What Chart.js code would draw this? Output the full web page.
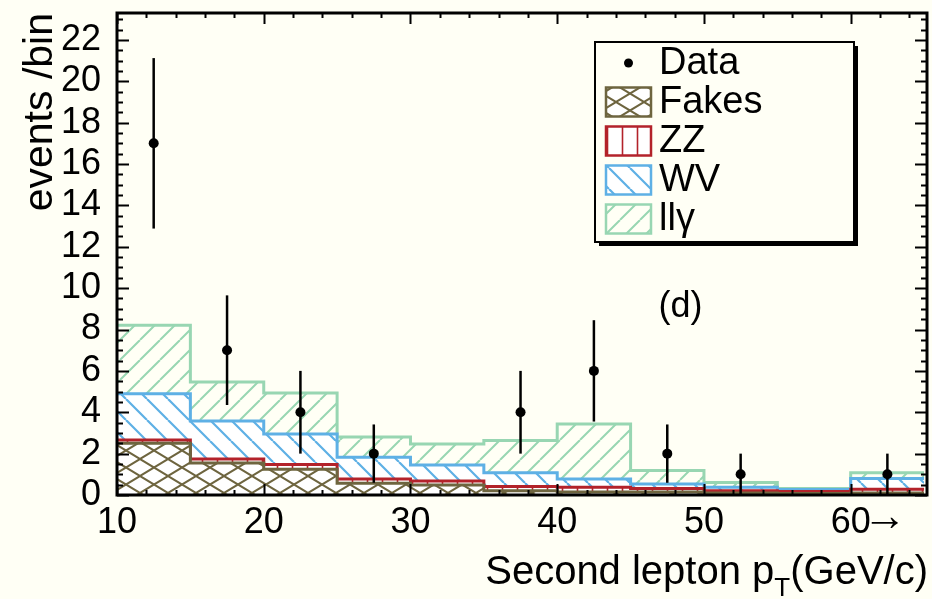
<!DOCTYPE html>
<html>
<head>
<meta charset="utf-8">
<script src="https://cdn.jsdelivr.net/npm/chart.js@4/dist/chart.umd.min.js"></script>
<style>
  html, body { margin: 0; padding: 0; background: #fffff5; }
  #wrap { width: 932px; height: 599px; }
</style>
</head>
<body>
<div id="wrap"><canvas id="c" width="932" height="599"></canvas></div>
<script>
// Bin edges of the second-lepton pT histogram (GeV/c); last bin holds overflow
const binEdges = [10, 15, 20, 25, 30, 35, 40, 45, 50, 55, 60, 65];

// Expected yields per bin for each background component (stacked bottom to top)
const fakes = [2.50, 1.55, 1.25, 0.57, 0.48, 0.20, 0.15, 0.15, 0.10, 0.07, 0.10];
const zz    = [0.16, 0.19, 0.22, 0.20, 0.20, 0.21, 0.23, 0.16, 0.11, 0.10, 0.18];
const wv    = [2.24, 1.84, 1.48, 1.05, 0.77, 0.67, 0.39, 0.22, 0.16, 0.09, 0.52];
const llg   = [3.30, 1.88, 1.98, 0.98, 1.02, 1.56, 2.66, 0.66, 0.24, 0.06, 0.27];

// Observed events (bin centres), with their uncertainties
const dataX   = [12.5, 17.5, 22.5, 27.5, 37.5, 42.5, 47.5, 52.5, 62.5];
const dataY   = [17, 7, 4, 2, 4, 6, 2, 1, 1];
const dataErr = [4.12, 2.65, 2.0, 1.41, 2.0, 2.45, 1.41, 1.0, 1.0];

const xTicks = [10, 20, 30, 40, 50, 60];
const yTicks = [0, 2, 4, 6, 8, 10, 12, 14, 16, 18, 20, 22];
const legendLabels = ['Data', 'Fakes', 'ZZ', 'WV', 'll\u03B3'];
const xTitle = ['Second lepton p', 'T', '(GeV/c)'];
const yTitle = 'events /bin';
const panelTag = '(d)';

const FONT = '"Liberation Sans", Arial, Helvetica, sans-serif';
const BG = '#fffff5';

// ---- hatch patterns ----
function makePattern(w, h, color, lw, bg, drawLines) {
  const c = document.createElement('canvas');
  c.width = w; c.height = h;
  const g = c.getContext('2d');
  if (bg) { g.fillStyle = bg; g.fillRect(0, 0, w, h); }
  g.strokeStyle = color; g.lineWidth = lw; g.lineCap = 'butt';
  g.beginPath(); drawLines(g, w, h); g.stroke();
  return g.createPattern(c, 'repeat');
}
const slash = (g, w, h) => { for (const o of [-w, 0, w]) { g.moveTo(o, h); g.lineTo(o + w, 0); } };
const backslash = (g, w, h) => { for (const o of [-w, 0, w]) { g.moveTo(o, 0); g.lineTo(o + w, h); } };
const vertical = (g, w, h) => { g.moveTo(w / 2, 0); g.lineTo(w / 2, h); };
const cross = (g, w, h) => { slash(g, w, h); backslash(g, w, h); };

const COL = {
  fakes: '#6e653f',
  zz: '#b3222a',
  wv: '#5eb0e5',
  llg: '#98d6b2'
};
const PAT = {
  fakes: makePattern(28, 17, COL.fakes, 2, '#ffffff', cross),
  zz: makePattern(15, 15, COL.zz, 1.6, '#ffffff', vertical),
  wv: makePattern(21, 21, COL.wv, 2.2, '#ffffff', backslash),
  llg: makePattern(20, 20, COL.llg, 2, null, slash)
};

// ---- stacked step outlines built from the component arrays ----
function stackTops(...parts) {
  const tops = [];
  let run = parts[0].map(() => 0);
  for (const p of parts) { run = run.map((v, i) => v + p[i]); tops.push(run.slice()); }
  return tops;
}
function stepPoints(tops) {
  const pts = tops.map((v, i) => ({ x: binEdges[i], y: v }));
  pts.push({ x: binEdges[binEdges.length - 1], y: tops[tops.length - 1] });
  return pts;
}
const [topFakes, topZZ, topWV, topLLG] = stackTops(fakes, zz, wv, llg);

function stackSet(label, tops, key, fill) {
  return {
    label, data: stepPoints(tops), stepped: true, fill,
    borderColor: COL[key], borderWidth: 3, backgroundColor: PAT[key],
    pointRadius: 0, tension: 0
  };
}

const datasets = [
  stackSet('Fakes', topFakes, 'fakes', 'origin'),
  stackSet('ZZ', topZZ, 'zz', '-1'),
  stackSet('WV', topWV, 'wv', '-1'),
  stackSet('ll\u03B3', topLLG, 'llg', '-1'),
  {
    label: 'Data', data: dataX.map((x, i) => ({ x, y: dataY[i] })),
    showLine: false, fill: false, pointRadius: 5, pointBackgroundColor: '#000',
    pointBorderWidth: 0, borderColor: '#000', order: -1
  }
];

// ---- frame, ticks, error bars, legend and text ----
const decor = {
  id: 'decor',
  afterDatasetsDraw(chart) {
    const { ctx, scales: { x, y } } = chart;
    ctx.save();
    ctx.strokeStyle = '#000'; ctx.lineWidth = 2.5;
    dataX.forEach((v, i) => {
      const px = x.getPixelForValue(v);
      ctx.beginPath();
      ctx.moveTo(px, y.getPixelForValue(Math.max(0, dataY[i] - dataErr[i])));
      ctx.lineTo(px, y.getPixelForValue(dataY[i] + dataErr[i]));
      ctx.stroke();
    });
    ctx.restore();
  },
  afterDraw(chart) {
    const { ctx, chartArea: a, scales: { x, y } } = chart;
    ctx.save();
    // frame
    ctx.strokeStyle = '#000'; ctx.lineWidth = 3;
    ctx.strokeRect(a.left, a.top, a.right - a.left, a.bottom - a.top);
    // y ticks (both sides)
    ctx.lineWidth = 2;
    ctx.beginPath();
    for (let v = 0; v <= y.max + 1e-6; v += 0.5) {
      const py = Math.round(y.getPixelForValue(v)) + 0.5;
      const len = (Math.abs(v % 2) < 1e-6) ? 12 : 6;
      ctx.moveTo(a.left, py); ctx.lineTo(a.left + len, py);
      ctx.moveTo(a.right, py); ctx.lineTo(a.right - len, py);
    }
    // x ticks (bottom and top)
    for (let v = 10; v <= x.max + 1e-6; v += 2) {
      const px = Math.round(x.getPixelForValue(v)) + 0.5;
      const len = (Math.abs(v % 10) < 1e-6) ? 11 : 5;
      ctx.moveTo(px, a.bottom); ctx.lineTo(px, a.bottom - len);
      ctx.moveTo(px, a.top); ctx.lineTo(px, a.top + len);
    }
    ctx.stroke();

    // overflow arrow after the last tick label
    ctx.fillStyle = '#000';
    ctx.font = '36px ' + FONT;
    const half60 = ctx.measureText('60').width / 2;
    ctx.font = '44px ' + FONT;
    ctx.textBaseline = 'middle'; ctx.textAlign = 'left';
    const p60 = x.getPixelForValue(60);
    ctx.fillText('\u2192', p60 + half60 - 8, 518);

    // x-axis title with subscript
    ctx.textBaseline = 'alphabetic'; ctx.textAlign = 'left';
    const bigF = '40px ' + FONT, subF = '26px ' + FONT;
    ctx.font = bigF; const w3 = ctx.measureText(xTitle[2]).width; const w1 = ctx.measureText(xTitle[0]).width;
    ctx.font = subF; const w2 = ctx.measureText(xTitle[1]).width;
    const base = 584, right = a.right + 1;
    let cx = right - w3 - w2 - w1;
    ctx.font = bigF; ctx.fillText(xTitle[0], cx, base); cx += w1;
    ctx.font = subF; ctx.fillText(xTitle[1], cx, base + 12); cx += w2;
    ctx.font = bigF; ctx.fillText(xTitle[2], cx, base);

    // panel tag
    ctx.font = '36px ' + FONT;
    ctx.fillText(panelTag, x.getPixelForValue(46.9), y.getPixelForValue(8.6));

    // legend
    const L = a.left + 478, T = a.top + 29, W = 259, H = 200;
    ctx.fillStyle = '#000';
    ctx.fillRect(L + 4, T + 4, W, H);
    ctx.fillStyle = BG; ctx.fillRect(L, T, W, H);
    ctx.lineWidth = 2; ctx.strokeStyle = '#000'; ctx.strokeRect(L, T, W, H);
    const rowY = i => T + 21 + 39 * i;
    const symL = L + 11, symW = 45, symH = 29;
    // data marker
    ctx.beginPath(); ctx.arc(symL + symW / 2, rowY(0), 4.5, 0, Math.PI * 2); ctx.fillStyle = '#000'; ctx.fill();
    const keys = ['fakes', 'zz', 'wv', 'llg'];
    keys.forEach((k, j) => {
      const ry = rowY(j + 1) - symH / 2;
      ctx.fillStyle = PAT[k];
      ctx.fillRect(symL, ry, symW, symH);
      ctx.strokeStyle = COL[k]; ctx.lineWidth = 2.5;
      ctx.strokeRect(symL, ry, symW, symH);
    });
    ctx.fillStyle = '#000'; ctx.font = '38px ' + FONT; ctx.textBaseline = 'middle';
    legendLabels.forEach((t, i) => ctx.fillText(t, L + 64, rowY(i) + 1));
    ctx.restore();
  }
};

new Chart(document.getElementById('c'), {
  type: 'line',
  data: { datasets },
  options: {
    responsive: false, animation: false, devicePixelRatio: 1,
    layout: { padding: { left: 0, right: 3, top: 13, bottom: 0 } },
    plugins: { legend: { display: false }, tooltip: { enabled: false } },
    elements: { line: { borderJoinStyle: 'miter' } },
    scales: {
      x: {
        type: 'linear', min: 10, max: 65.2,
        grid: { display: false, drawTicks: false, tickLength: 0 },
        border: { display: false },
        afterBuildTicks: s => { s.ticks = xTicks.map(v => ({ value: v })); },
        afterFit: s => { s.height = 104; s.paddingLeft = 0; s.paddingRight = 0; },
        ticks: { color: '#000', padding: 6, maxRotation: 0, autoSkip: false, font: { family: FONT, size: 36 } }
      },
      y: {
        type: 'linear', min: 0, max: 23.3,
        grid: { display: false, drawTicks: false, tickLength: 0 },
        border: { display: false },
        afterBuildTicks: s => { s.ticks = yTicks.map(v => ({ value: v })); },
        afterFit: s => { s.width = 117; s.paddingTop = 0; s.paddingBottom = 0; },
        ticks: { color: '#000', padding: 16, autoSkip: false, font: { family: FONT, size: 36 } },
        title: { display: true, text: yTitle, align: 'end', color: '#000', padding: { top: 16, bottom: 0 }, font: { family: FONT, size: 41 } }
      }
    }
  },
  plugins: [decor]
});
</script>
</body>
</html>
